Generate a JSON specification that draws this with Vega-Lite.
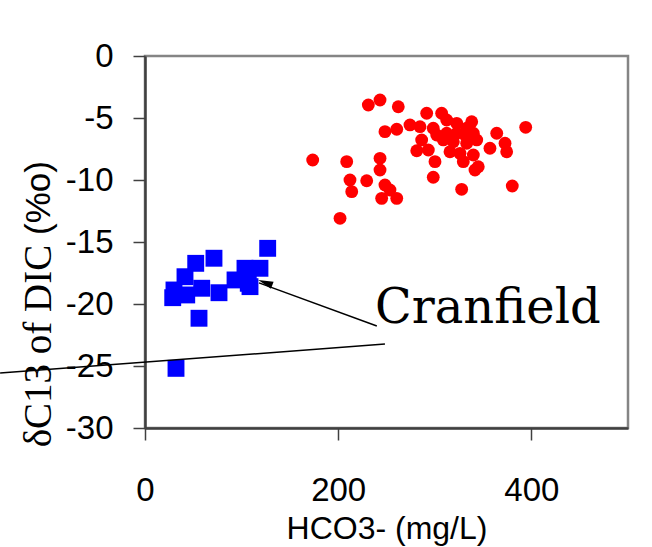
{
  "$schema": "https://vega.github.io/schema/vega-lite/v6.json",
  "width": 483,
  "height": 372,
  "autosize": {"type": "none"},
  "padding": {"left": 145, "top": 56, "right": 24, "bottom": 119},
  "background": "white",
  "config": {
    "view": {"stroke": "#858585", "strokeWidth": 2.5},
    "font": "Liberation Sans"
  },
  "datasets": {
    "samples": [
      {"hco3": 231.2, "d13c": -3.95, "site": "Other"},
      {"hco3": 243.3, "d13c": -3.55, "site": "Other"},
      {"hco3": 262.2, "d13c": -4.09, "site": "Other"},
      {"hco3": 291.6, "d13c": -4.62, "site": "Other"},
      {"hco3": 307.1, "d13c": -4.62, "site": "Other"},
      {"hco3": 312.3, "d13c": -5.16, "site": "Other"},
      {"hco3": 322.7, "d13c": -5.43, "site": "Other"},
      {"hco3": 338.2, "d13c": -5.30, "site": "Other"},
      {"hco3": 248.4, "d13c": -6.10, "site": "Other"},
      {"hco3": 260.6, "d13c": -5.91, "site": "Other"},
      {"hco3": 274.3, "d13c": -5.56, "site": "Other"},
      {"hco3": 284.7, "d13c": -5.70, "site": "Other"},
      {"hco3": 298.4, "d13c": -5.83, "site": "Other"},
      {"hco3": 302.0, "d13c": -6.37, "site": "Other"},
      {"hco3": 312.3, "d13c": -6.23, "site": "Other"},
      {"hco3": 322.7, "d13c": -6.23, "site": "Other"},
      {"hco3": 331.3, "d13c": -6.37, "site": "Other"},
      {"hco3": 333.0, "d13c": -5.83, "site": "Other"},
      {"hco3": 343.4, "d13c": -6.77, "site": "Other"},
      {"hco3": 286.4, "d13c": -6.77, "site": "Other"},
      {"hco3": 281.3, "d13c": -7.64, "site": "Other"},
      {"hco3": 293.3, "d13c": -7.58, "site": "Other"},
      {"hco3": 300.2, "d13c": -8.52, "site": "Other"},
      {"hco3": 315.7, "d13c": -7.72, "site": "Other"},
      {"hco3": 326.1, "d13c": -7.85, "site": "Other"},
      {"hco3": 329.5, "d13c": -8.52, "site": "Other"},
      {"hco3": 339.9, "d13c": -7.98, "site": "Other"},
      {"hco3": 345.0, "d13c": -8.93, "site": "Other"},
      {"hco3": 341.6, "d13c": -9.19, "site": "Other"},
      {"hco3": 357.1, "d13c": -7.44, "site": "Other"},
      {"hco3": 364.1, "d13c": -6.23, "site": "Other"},
      {"hco3": 372.7, "d13c": -7.04, "site": "Other"},
      {"hco3": 374.4, "d13c": -7.72, "site": "Other"},
      {"hco3": 394.1, "d13c": -5.75, "site": "Other"},
      {"hco3": 173.6, "d13c": -8.39, "site": "Other"},
      {"hco3": 208.8, "d13c": -8.52, "site": "Other"},
      {"hco3": 243.3, "d13c": -8.25, "site": "Other"},
      {"hco3": 243.3, "d13c": -9.19, "site": "Other"},
      {"hco3": 212.2, "d13c": -10.00, "site": "Other"},
      {"hco3": 229.5, "d13c": -10.06, "site": "Other"},
      {"hco3": 248.4, "d13c": -10.40, "site": "Other"},
      {"hco3": 253.6, "d13c": -10.81, "site": "Other"},
      {"hco3": 214.0, "d13c": -10.94, "site": "Other"},
      {"hco3": 245.0, "d13c": -11.48, "site": "Other"},
      {"hco3": 260.6, "d13c": -11.48, "site": "Other"},
      {"hco3": 298.4, "d13c": -9.78, "site": "Other"},
      {"hco3": 327.8, "d13c": -10.75, "site": "Other"},
      {"hco3": 380.2, "d13c": -10.48, "site": "Other"},
      {"hco3": 201.9, "d13c": -13.09, "site": "Other"},
      {"hco3": 319.2, "d13c": -6.91, "site": "Other"},
      {"hco3": 333.0, "d13c": -7.04, "site": "Other"},
      {"hco3": 339.9, "d13c": -6.23, "site": "Other"},
      {"hco3": 308.8, "d13c": -6.77, "site": "Other"},
      {"hco3": 127.0, "d13c": -15.51, "site": "Cranfield"},
      {"hco3": 71.4, "d13c": -16.31, "site": "Cranfield"},
      {"hco3": 52.5, "d13c": -16.72, "site": "Cranfield"},
      {"hco3": 103.5, "d13c": -17.12, "site": "Cranfield"},
      {"hco3": 119.0, "d13c": -17.12, "site": "Cranfield"},
      {"hco3": 41.4, "d13c": -17.80, "site": "Cranfield"},
      {"hco3": 93.2, "d13c": -18.06, "site": "Cranfield"},
      {"hco3": 106.9, "d13c": -18.33, "site": "Cranfield"},
      {"hco3": 58.7, "d13c": -18.73, "site": "Cranfield"},
      {"hco3": 30.0, "d13c": -18.87, "site": "Cranfield"},
      {"hco3": 76.6, "d13c": -19.09, "site": "Cranfield"},
      {"hco3": 43.2, "d13c": -19.27, "site": "Cranfield"},
      {"hco3": 28.7, "d13c": -19.49, "site": "Cranfield"},
      {"hco3": 55.9, "d13c": -21.15, "site": "Cranfield"},
      {"hco3": 32.1, "d13c": -25.19, "site": "Cranfield"},
      {"hco3": 108.7, "d13c": -18.60, "site": "Cranfield"}
    ],
    "lines": [
      {"hco3": -150, "d13c": -25.56, "hco3_end": 248.4, "d13c_end": -23.23, "kind": "leader"},
      {"hco3": 240, "d13c": -21.77, "hco3_end": 118, "d13c_end": -18.3, "kind": "arrow"}
    ],
    "arrowhead": [
      {"hco3": 124.5, "d13c": -18.28}
    ],
    "labels": [
      {"hco3": 238.1, "d13c": -21.53, "label": "Cranfield"}
    ],
    "units": [
      {"hco3": -98.3, "d13c": -11.45, "label": "(%o)"}
    ]
  },
  "encoding": {
    "x": {
      "field": "hco3",
      "type": "quantitative",
      "scale": {"domain": [0, 500], "nice": false, "zero": false},
      "axis": {
        "values": [0, 200, 400],
        "title": "HCO3- (mg/L)",
        "grid": false,
        "domainColor": "#404040",
        "domainWidth": 2.5,
        "tickColor": "#404040",
        "tickWidth": 1.5,
        "tickSize": 12,
        "labelFont": "Liberation Sans",
        "labelFontSize": 33,
        "labelColor": "black",
        "labelBaseline": "alphabetic",
        "labelPadding": 60,
        "labelFlush": false,
        "titleFont": "Liberation Sans",
        "titleFontSize": 32,
        "titleFontWeight": "normal",
        "titleColor": "black",
        "titleBaseline": "alphabetic",
        "titleY": 110
      }
    },
    "y": {
      "field": "d13c",
      "type": "quantitative",
      "scale": {"domain": [-30, 0], "nice": false, "zero": false},
      "axis": {
        "values": [0, -5, -10, -15, -20, -25, -30],
        "labelExpr": "replace(datum.label, '\u2212', '-')",
        "title": "δC13 of DIC",
        "grid": false,
        "domainColor": "#404040",
        "domainWidth": 2.5,
        "tickColor": "#404040",
        "tickWidth": 1.5,
        "tickSize": 12,
        "labelFont": "Liberation Sans",
        "labelFontSize": 33,
        "labelColor": "black",
        "labelPadding": 20,
        "labelFlush": false,
        "titleFont": "Liberation Serif",
        "titleFontSize": 39,
        "titleFontWeight": "normal",
        "titleColor": "black",
        "titleAngle": 270,
        "titleAlign": "center",
        "titleBaseline": "alphabetic",
        "titleX": -95,
        "titleY": 289.5
      }
    }
  },
  "layer": [
    {
      "data": {"name": "samples"},
      "transform": [{"filter": "datum.site === 'Other'"}],
      "mark": {"type": "point", "shape": "circle", "filled": true, "color": "#ff0000", "opacity": 1, "size": 165, "strokeWidth": 0}
    },
    {
      "data": {"name": "samples"},
      "transform": [{"filter": "datum.site === 'Cranfield'"}],
      "mark": {"type": "point", "shape": "square", "filled": true, "color": "#0000ff", "opacity": 1, "size": 285, "strokeWidth": 0}
    },
    {
      "data": {"name": "lines"},
      "mark": {"type": "rule", "color": "black", "strokeWidth": 1.5},
      "encoding": {
        "x2": {"field": "hco3_end"},
        "y2": {"field": "d13c_end"}
      }
    },
    {
      "data": {"name": "arrowhead"},
      "mark": {"type": "point", "shape": "M0,-1L-0.5,1L0.5,1Z", "filled": true, "color": "black", "opacity": 1, "size": 225, "angle": 291, "strokeWidth": 0}
    },
    {
      "data": {"name": "labels"},
      "mark": {"type": "text", "font": "DejaVu Serif", "fontSize": 48, "align": "left", "baseline": "alphabetic", "color": "black"},
      "encoding": {"text": {"field": "label"}}
    },
    {
      "data": {"name": "units"},
      "mark": {"type": "text", "font": "Liberation Sans", "fontSize": 35, "align": "center", "baseline": "alphabetic", "angle": 270, "color": "black"},
      "encoding": {"text": {"field": "label"}}
    }
  ]
}
